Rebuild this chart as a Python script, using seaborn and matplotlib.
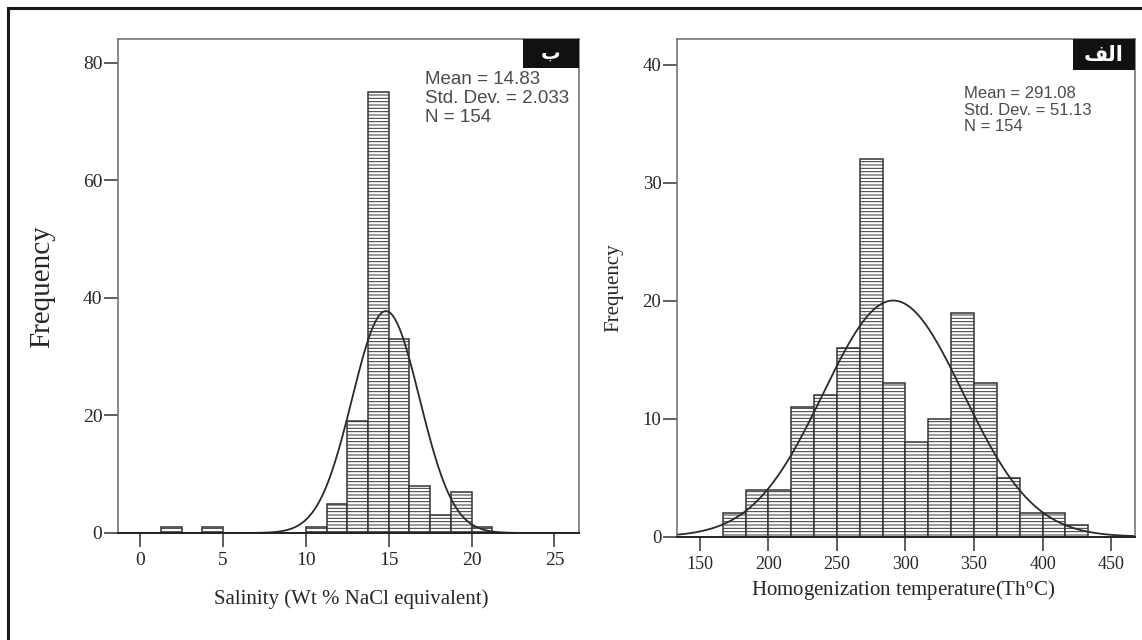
import numpy as np
import pandas as pd
import matplotlib
matplotlib.use("Agg")
import matplotlib.pyplot as plt
import seaborn as sns
from matplotlib.patches import Rectangle

# left panel: salinity (bin width 1.25)
sal_edges = [1.25, 2.5, 3.75, 5.0, 6.25, 7.5, 8.75, 10.0, 11.25, 12.5,
             13.75, 15.0, 16.25, 17.5, 18.75, 20.0, 21.25]
sal_counts = [1, 0, 1, 0, 0, 0, 0, 1, 5, 19, 75, 33, 8, 3, 7, 1]
sal_mean, sal_sd, sal_n = 14.83, 2.033, 154
sal_ticks = [0, 5, 10, 15, 20, 25]
sal_yticks = [0, 20, 40, 60, 80]

# right panel: homogenization temperature (bin width 50/3)
th_edges = [166.67, 183.33, 200.0, 216.67, 233.33, 250.0, 266.67, 283.33, 300.0,
            316.67, 333.33, 350.0, 366.67, 383.33, 400.0, 416.67, 433.33]
th_counts = [2, 4, 4, 11, 12, 16, 32, 13, 8, 10, 19, 13, 5, 2, 2, 1]
th_mean, th_sd, th_n = 291.08, 51.13, 154
th_ticks = [150, 200, 250, 300, 350, 400, 450]
th_yticks = [0, 10, 20, 30, 40]

sns.set_style("ticks")
plt.rcParams['font.family'] = ['Liberation Serif', 'DejaVu Sans']
plt.rcParams['mathtext.fontset'] = 'custom'
plt.rcParams['mathtext.rm'] = 'Liberation Serif'
plt.rcParams['mathtext.default'] = 'rm'
plt.rcParams['hatch.linewidth'] = 0.7

fig = plt.figure(figsize=(11.42, 6.4), dpi=100)
fig.patch.set_facecolor('white')

ax1 = fig.add_axes([0.1031, 0.1672, 0.4037, 0.7711])
ax2 = fig.add_axes([0.5925, 0.1614, 0.4014, 0.7769])


def draw_hist(ax, edges, counts, mean, sd, n, xlim, ylim):
    mids = [(a + b) / 2 for a, b in zip(edges[:-1], edges[1:])]
    df = pd.DataFrame({'x': mids, 'w': counts})
    sns.histplot(data=df, x='x', weights='w', bins=list(edges), ax=ax,
                 color='white', edgecolor='#333333', linewidth=1.1, alpha=1)
    for p in ax.patches:
        p.set_hatch('-----')
        p.set_facecolor('white')
    # fitted normal curve
    binw = np.mean(np.diff(edges))
    xs = np.linspace(xlim[0], xlim[1], 400)
    ys = n * binw * np.exp(-0.5 * ((xs - mean) / sd) ** 2) / (sd * np.sqrt(2 * np.pi))
    sns.lineplot(x=xs, y=ys, ax=ax, color='#2a2a2a', linewidth=1.3)
    ax.set_xlim(xlim)
    ax.set_ylim(ylim)
    for s in ['left', 'top', 'right']:
        ax.spines[s].set_color('#6a6a6a')
        ax.spines[s].set_linewidth(1.1)
    ax.spines['bottom'].set_color('#222222')
    ax.spines['bottom'].set_linewidth(1.4)
    ax.tick_params(direction='out', length=10, width=1.1, color='#333333')


draw_hist(ax1, sal_edges, sal_counts, sal_mean, sal_sd, sal_n, (-1.35, 26.47), (0, 84))
ax1.set_xticks(sal_ticks)
ax1.set_yticks(sal_yticks)
ax1.tick_params(axis='y', pad=1, labelsize=14)
ax1.tick_params(axis='x', pad=4, labelsize=14)
ax1.set_ylabel('Frequency', fontsize=21)
ax1.yaxis.set_label_coords(-0.135, 0.5)
ax1.set_xlabel('Salinity (Wt % NaCl equivalent)', fontsize=15)
ax1.xaxis.label.set_va('center')
ax1.xaxis.set_label_coords(0.5065, -0.134)

draw_hist(ax2, th_edges, th_counts, th_mean, th_sd, th_n, (133, 467.5), (0, 42.16))
ax2.set_xticks(th_ticks)
ax2.set_yticks(th_yticks)
ax2.tick_params(axis='y', pad=1, labelsize=13.5)
ax2.tick_params(axis='x', pad=4, labelsize=13)
ax2.set_ylabel('Frequency', fontsize=15)
ax2.yaxis.set_label_coords(-0.117, 0.5)
ax2.set_xlabel(r'Homogenization temperature(Th$^{\mathrm{o}}$C)', fontsize=15)
ax2.xaxis.label.set_va('center')
ax2.xaxis.set_label_coords(0.494, -0.108)

# summary statistics
sal_stats = ['Mean = 14.83', 'Std. Dev. = 2.033', 'N = 154']
th_stats = ['Mean = 291.08', 'Std. Dev. = 51.13', 'N = 154']
for i, line in enumerate(sal_stats):
    ax1.text(0.666, 0.918 - i * 0.0385, line, transform=ax1.transAxes,
             fontsize=13.5, family='Liberation Sans', color='#4a4a4a', va='center')
for i, line in enumerate(th_stats):
    ax2.text(0.6275, 0.8904 - i * 0.0332, line, transform=ax2.transAxes,
             fontsize=12, family='Liberation Sans', color='#4a4a4a', va='center')

# panel tags (Arabic; lam-alef-feh written in presentation forms for display)
ax1.add_patch(Rectangle((0.8786, 0.9429), 0.1214, 0.0571, transform=ax1.transAxes,
                        facecolor='#111111', edgecolor='none', zorder=5, clip_on=False))
ax1.text(0.939, 0.972, 'ب', transform=ax1.transAxes, color='white', fontsize=14,
         family=['DejaVu Sans'], fontweight='bold', ha='center', va='center', zorder=6)
ax2.add_patch(Rectangle((0.864, 0.9377), 0.136, 0.0623, transform=ax2.transAxes,
                        facecolor='#111111', edgecolor='none', zorder=5, clip_on=False))
ax2.text(0.932, 0.968, '\ufed2\ufedf\u0627', transform=ax2.transAxes, color='white',
         fontsize=15, family=['DejaVu Sans'], fontweight='bold', ha='center', va='center', zorder=6)

# outer frame (only left and top edges fall inside the picture)
fig.add_artist(Rectangle((8 / 1142, -0.1), 1.2, 1.0875, transform=fig.transFigure,
                         fill=False, edgecolor='#1a1a1a', linewidth=2.2))

fig.savefig('out.png', dpi=100, facecolor='white')
